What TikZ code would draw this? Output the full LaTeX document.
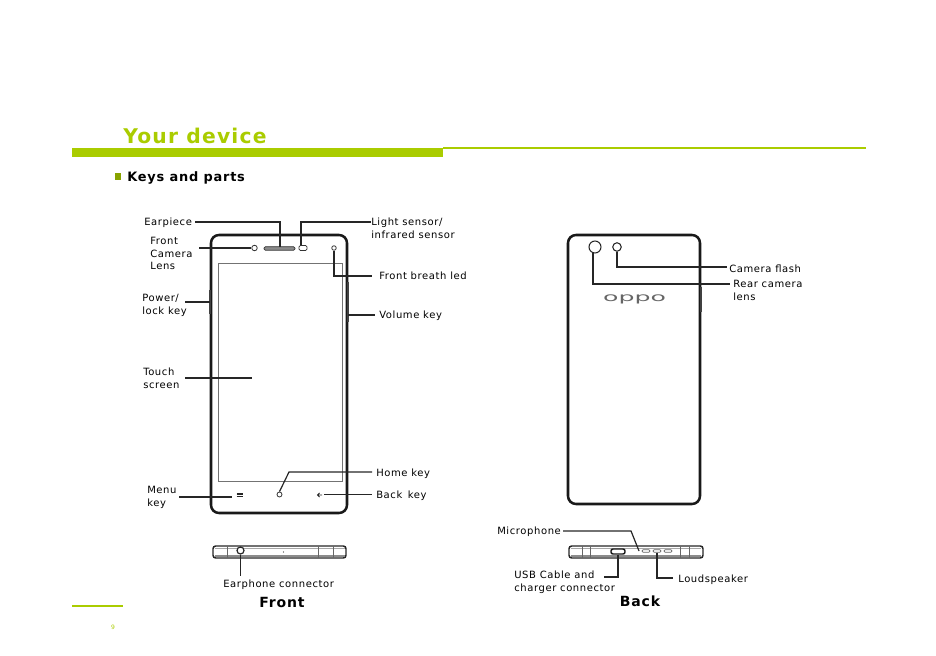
\documentclass[tikz,border=0pt]{standalone}
\usepackage{fontspec}
\setmainfont{DejaVu Sans}[LetterSpace=6]
\newfontfamily\logofont{DejaVu Sans}
\definecolor{brand}{RGB}{170,204,0}
\tikzset{
  lab/.style={anchor=west,inner sep=0pt,align=left,font=\fontsize{7.5pt}{9.4pt}\selectfont,text=black},
  lead/.style={draw=black!85,line width=.9pt},
  body/.style={draw=black!90,line width=1.9pt,rounded corners=6pt},
  thin/.style={draw=black!60,line width=.6pt},
  side/.style={draw=black!75,line width=1.5pt},
  edgeview/.style={draw=black!85,fill=white,line width=1.1pt,rounded corners=2pt},
}
\begin{document}
\begin{tikzpicture}[x=.75pt,y=-.75pt]
\useasboundingbox (0,0) rectangle (936,656);
% header
\fill[brand] (72,148) rectangle (443,157);
\draw[brand,line width=1.4pt] (443,148) -- (866,148);
\node[anchor=west,inner sep=0pt,text=brand,font=\bfseries\fontsize{15.2pt}{18pt}\selectfont] (title) at (123,136) {Your device};
\fill[brand!80!black] (114.5,173) rectangle (121,180);
\node[anchor=west,inner sep=0pt,font=\bfseries\fontsize{9.7pt}{12pt}\selectfont] (sub) at (127,177.5) {Keys and parts};
\draw[brand,line width=1.4pt] (72,606) -- (123,606);
\node[inner sep=0pt,text=brand,font=\fontsize{4.5pt}{5pt}\selectfont] (pg) at (113,627.5) {9};
% front phone
\draw[body] (211,235) rectangle (347,513);
\draw[draw=black!55,line width=.7pt] (218,263) rectangle (342,481);
\draw[side] (210,290) -- (210,314);
\draw[side] (348,282) -- (348,322);
\node[draw=black!80,circle,line width=.6pt,minimum size=5.5*.75pt,inner sep=0pt] (fcam) at (254.5,248) {};
\node[draw=black!80,fill=black!45,rounded corners=1pt,line width=.5pt,minimum width=31*.75pt,minimum height=3.5*.75pt,inner sep=0pt] (ear) at (279.5,248.5) {};
\node[draw=black!80,rounded corners=1pt,line width=.6pt,minimum width=8*.75pt,minimum height=5*.75pt,inner sep=0pt] (light) at (303,248) {};
\node[draw=black!80,circle,line width=.6pt,minimum size=4.5*.75pt,inner sep=0pt] (led) at (334,248) {};
\node[draw=black!80,circle,line width=.6pt,minimum size=5*.75pt,inner sep=0pt] (home) at (279.5,494.5) {};
\node[inner sep=0pt,minimum size=6*.75pt] (menu) at (239.5,494.5) {};
\draw[black!85,line width=.6pt] (236.5,493) -- (242.5,493) (236.5,494.7) -- (242.5,494.7) (236.5,496.4) -- (242.5,496.4);
\coordinate (backk) at (319,494.5);
\draw[black!85,line width=.7pt] (322,495) -- (317.5,495) (319.5,493) -- (317.5,495) -- (319.5,497);
% front bottom view
\draw[edgeview] (213,546) rectangle (346,558);
\draw[black!45,line width=1.2pt] (215,556) -- (345,556);
\draw[black!35,line width=.6pt] (215,548.5) -- (345,548.5);
\draw[thin] (227,546) -- (227,558) (318,546) -- (318,558) (333,546) -- (333,558);
\fill[black!80] (283.5,552) circle (.7);
\node[draw=black!85,fill=white,circle,line width=.9pt,minimum size=7*.75pt,inner sep=0pt] (jack) at (240.5,550.5) {};
% front labels
\node[lab] (tEar) at (144,222.5) {Earpiece};
\node[lab] (tLight) at (371,228.5) {Light sensor/\\infrared sensor};
\coordinate (jLight) at (371,222);
\node[lab] (tCam) at (150,253.5) {Front\\Camera\\Lens};
\coordinate (jCam) at (199,248);
\node[lab] (tLed) at (379,275.5) {Front breath led};
\coordinate (jLed) at (372,276);
\node[lab] (tPow) at (142,305.5) {Power/\\lock key};
\coordinate (jPow) at (185,302);
\node[lab] (tVol) at (379,315.5) {Volume key};
\node[lab] (tTouch) at (143,378.5) {Touch\\screen};
\coordinate (jTouch) at (185,378);
\coordinate (eTouch) at (252,378);
\node[lab] (tHome) at (376,473.5) {Home key};
\node[lab] (tBack) at (376,495.5) {Back\, key};
\node[lab] (tMenu) at (147,497.5) {Menu\\key};
\coordinate (jMenu) at (179,497);
\node[lab] (tJack) at (223,584.5) {Earphone connector};
\node[inner sep=0pt,font=\bfseries\fontsize{10.5pt}{12pt}\selectfont] (tFront) at (282,602) {Front};
% front leads
\coordinate (a1) at (195,222);
\draw[lead] (a1) -- (280,222) -- (280,247);
\draw[lead] (jLight) -- (301,222) -- (301,245.5);
\draw[lead] (jCam) -- (fcam.west);
\draw[lead] (led.south) |- (jLed);
\draw[lead] (jPow) -- (210,302);
\draw[lead] (348,315) -- (375,315);
\draw[lead] (jTouch) -- (eTouch);
\draw[lead] (home.north) -- (289,472) -- (372,472);
\draw[lead] (324,494.5) -- (372,494.5);
\draw[lead] (jMenu) -- (232,497);
\draw[lead] (jack.south) -- (240.5,576);
% back phone
\draw[body] (568,235) rectangle (700,504);
\draw[side] (701,287) -- (701,312);
\node[draw=black!85,circle,line width=.8pt,minimum size=12*.75pt,inner sep=0pt] (rcam) at (595,247) {};
\node[draw=black!85,circle,line width=.8pt,minimum size=8.5*.75pt,inner sep=0pt] (flash) at (617,247) {};
\node[inner sep=0pt,text=black!60] (logo) at (634.5,299) {\scalebox{2.1}[1]{\fontsize{9pt}{10pt}\logofont oppo}};
% back bottom view
\draw[edgeview] (569,546) rectangle (703,558);
\draw[black!45,line width=1.2pt] (571,556) -- (701,556);
\draw[black!35,line width=.6pt] (571,548.5) -- (701,548.5);
\draw[thin] (582,546) -- (582,558) (590,546) -- (590,558) (680,546) -- (680,558) (689,546) -- (689,558);
\node[draw=black!90,fill=white,rounded corners=1.5pt,line width=1.1pt,minimum width=14*.75pt,minimum height=5*.75pt,inner sep=0pt] (usb) at (618,551.5) {};
\node[draw=black!60,fill=white,rounded corners=.8pt,line width=.5pt,minimum width=8*.75pt,minimum height=2.5*.75pt,inner sep=0pt] (h1) at (646,551) {};
\node[draw=black!60,fill=white,rounded corners=.8pt,line width=.5pt,minimum width=8*.75pt,minimum height=2.5*.75pt,inner sep=0pt] (h2) at (657,551) {};
\node[draw=black!60,fill=white,rounded corners=.8pt,line width=.5pt,minimum width=8*.75pt,minimum height=2.5*.75pt,inner sep=0pt] (h3) at (668,551) {};
% back labels
\node[lab] (tFlash) at (729,268.5) {Camera flash};
\coordinate (jFlash) at (727,267);
\node[lab] (tRear) at (733,290.5) {Rear camera\\lens};
\coordinate (jRear) at (730,284);
\node[lab] (tMic) at (497,531.5) {Microphone};
\node[lab] (tUsb) at (514,582.5) {USB Cable and\\charger connector};
\coordinate (jUsb) at (604,577);
\node[lab] (tSpk) at (678,579.5) {Loudspeaker};
\coordinate (jSpk) at (673,578);
\coordinate (jMic) at (563,531);
\node[inner sep=0pt,font=\bfseries\fontsize{10.5pt}{12pt}\selectfont] (tBackv) at (640,601) {Back};
% back leads
\draw[lead] (593,252.5) |- (jRear);
\draw[lead] (flash.south) |- (jFlash);
\draw[lead] (jMic) -- (631,531) -- (639,551);
\draw[lead] (usb.south) |- (jUsb);
\draw[lead] (h2.south) |- (jSpk);
\end{tikzpicture}
\end{document}
